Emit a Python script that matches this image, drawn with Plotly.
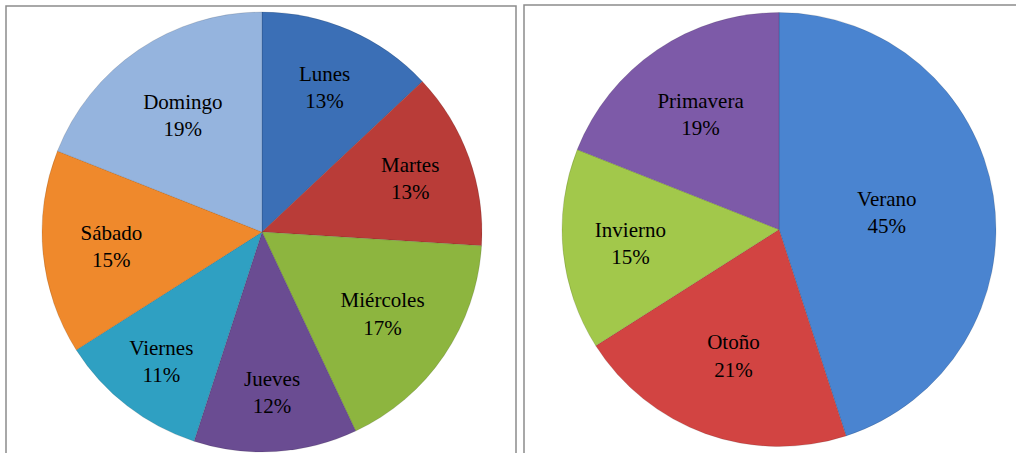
import plotly.graph_objects as go

dias = ['Lunes', 'Martes', 'Miércoles', 'Jueves', 'Viernes', 'Sábado', 'Domingo']
dias_pct = [13, 13, 17, 12, 11, 15, 19]
dias_colores = ['#3b6fb6', '#b93c38', '#8db53f', '#6a4c92', '#2fa0c2', '#ef892c', '#95b4de']

estaciones = ['Verano', 'Otoño', 'Invierno', 'Primavera']
estaciones_pct = [45, 21, 15, 19]
estaciones_colores = ['#4a84d0', '#d24442', '#a2c84b', '#7d5aa8']

W, H = 1016, 453
fuente = dict(family='Liberation Serif, Times New Roman, serif', size=21, color='black')
borde_sector = dict(color='rgba(0,0,0,0.12)', width=1)

fig = go.Figure()
fig.add_trace(go.Pie(labels=dias, values=dias_pct, sort=False, direction='clockwise', rotation=0,
                     marker=dict(colors=dias_colores, line=borde_sector),
                     texttemplate='%{label}<br>%{percent:.0%}', textposition='inside',
                     insidetextorientation='horizontal', insidetextfont=fuente,
                     domain=dict(x=[42 / W, 482 / W], y=[1 - 452 / H, 1 - 12 / H]),
                     showlegend=False))
fig.add_trace(go.Pie(labels=estaciones, values=estaciones_pct, sort=False, direction='clockwise', rotation=0,
                     marker=dict(colors=estaciones_colores, line=borde_sector),
                     texttemplate='%{label}<br>%{percent:.0%}', textposition='inside',
                     insidetextorientation='horizontal', insidetextfont=fuente,
                     domain=dict(x=[562 / W, 996 / W], y=[1 - 447 / H, 1 - 12 / H]),
                     showlegend=False))

# marcos grises de cada grafico
borde = dict(color='#8c8c8c', width=1.5)
fig.add_shape(type='rect', xref='paper', yref='paper', x0=6 / W, x1=516 / W, y0=-0.05, y1=1 - 6 / H, line=borde)
fig.add_shape(type='rect', xref='paper', yref='paper', x0=524 / W, x1=1.05, y0=-0.05, y1=1 - 5 / H, line=borde)

fig.update_layout(width=W, height=H, margin=dict(l=0, r=0, t=0, b=0),
                  paper_bgcolor='white', plot_bgcolor='white')
fig.write_html('out.html', config={'displayModeBar': False},
               post_script="document.body.style.margin='0';document.body.style.overflow='hidden';")
